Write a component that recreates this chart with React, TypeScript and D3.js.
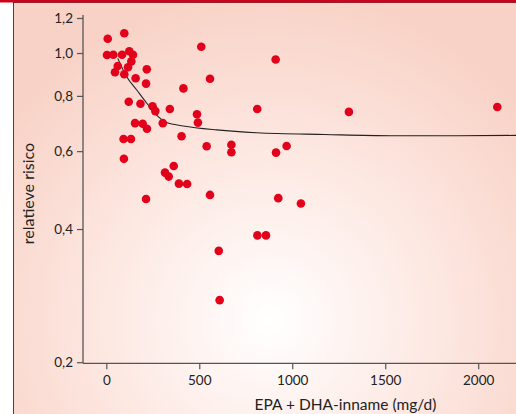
import React from "react";
import * as d3 from "d3";

const intake = [5, 94, 1, 35, 82, 121, 141, 132, 59, 114, 44, 94, 215, 155, 211, 412, 118, 181, 246, 261, 339, 152, 193, 216, 301, 402, 90, 130, 92, 360, 313, 333, 388, 432, 211, 508, 555, 485, 490, 809, 537, 670, 670, 555, 602, 607, 908, 910, 967, 922, 1044, 810, 856, 1302, 2100];
const risk = [1.08, 1.111, 0.992, 0.994, 0.994, 1.012, 0.994, 0.96, 0.937, 0.931, 0.907, 0.898, 0.921, 0.879, 0.855, 0.834, 0.778, 0.77, 0.76, 0.741, 0.749, 0.696, 0.694, 0.676, 0.696, 0.65, 0.641, 0.641, 0.578, 0.557, 0.538, 0.527, 0.508, 0.507, 0.469, 1.036, 0.877, 0.729, 0.698, 0.749, 0.617, 0.622, 0.598, 0.479, 0.358, 0.277, 0.969, 0.597, 0.618, 0.471, 0.458, 0.388, 0.388, 0.738, 0.757];

const curveX = [59, 107, 161, 215, 268, 322, 411, 591, 806, 1172, 1530, 1889, 2201];
const curveY = [0.975, 0.886, 0.827, 0.772, 0.726, 0.698, 0.686, 0.672, 0.662, 0.656, 0.652, 0.652, 0.653];

const xTicks = [0, 500, 1000, 1500, 2000];
const yTicks = [0.2, 0.4, 0.6, 0.8, 1.0, 1.2];
const yTickLabels = ["0,2", "0,4", "0,6", "0,8", "1,0", "1,2"];

const FONT = "Lato, 'Open Sans', sans-serif";

export default function App() {
  const W = 516, H = 414;
  const x = d3.scaleLinear().domain([0, 2000]).range([106.8, 478.7]);
  const y = d3.scaleLog().domain([0.2, 1.2]).range([362.7, 18.5]);
  const axisX0 = 83;
  const axisY = 363.3;
  const line = d3.line<number>()
    .x((_, i) => x(curveX[i]))
    .y((d) => y(d))
    .curve(d3.curveMonotoneX);
  const axisColor = "#555";
  return (
    <svg width={W} height={H} style={{ position: "absolute", left: 0, top: 0, display: "block" }}>
      <defs>
        <radialGradient id="bg" gradientUnits="userSpaceOnUse" cx={270} cy={320} r={330}>
          <stop offset="0" stopColor="#ffffff" />
          <stop offset="0.5" stopColor="#fde8e2" />
          <stop offset="1" stopColor="#f8d2c6" />
        </radialGradient>
      </defs>
      <rect x={0} y={0} width={W} height={H} fill="#fff" />
      <rect x={13} y={2} width={W - 13} height={H - 2} fill="url(#bg)" />
      <line x1={13.5} y1={2} x2={13.5} y2={H} stroke="#444" strokeWidth={1} />
      <rect x={0} y={0} width={W} height={2.5} fill="#d0021b" />
      <line x1={13} y1={2.5} x2={W} y2={2.5} stroke="#7a1020" strokeWidth={0.8} />

      {/* y axis */}
      <line x1={axisX0} y1={15} x2={axisX0} y2={axisY} stroke={axisColor} strokeWidth={1.3} />
      {yTicks.map((t, i) => (
        <g key={t}>
          <line x1={77} x2={axisX0} y1={y(t)} y2={y(t)} stroke={axisColor} strokeWidth={1.2} />
          <text x={73} y={y(t)} dy="0.35em" textAnchor="end" fontFamily={FONT} fontSize={13.5} fill="#222">
            {yTickLabels[i]}
          </text>
        </g>
      ))}
      {/* x axis */}
      <line x1={axisX0} y1={axisY} x2={W + 5} y2={axisY} stroke={axisColor} strokeWidth={1.3} />
      {xTicks.map((t) => (
        <g key={t}>
          <line x1={x(t)} x2={x(t)} y1={axisY} y2={axisY + 6} stroke={axisColor} strokeWidth={1.2} />
          <text x={x(t)} y={384.5} textAnchor="middle" fontFamily={FONT} fontSize={13.5} fill="#222">
            {t}
          </text>
        </g>
      ))}
      <text x={345.5} y={409.5} textAnchor="middle" fontFamily={FONT} fontSize={15.5} fill="#222">
        EPA + DHA-inname (mg/d)
      </text>
      <text transform={`translate(33.5,193.5) rotate(-90)`} textAnchor="middle" fontFamily={FONT} fontSize={16} fill="#222">
        relatieve risico
      </text>

      <path d={line(curveY) || ""} fill="none" stroke="#222" strokeWidth={1.1} />
      {intake.map((v, i) => (
        <circle key={i} cx={x(v)} cy={y(risk[i])} r={4.3} fill="#e2001a" />
      ))}
    </svg>
  );
}
